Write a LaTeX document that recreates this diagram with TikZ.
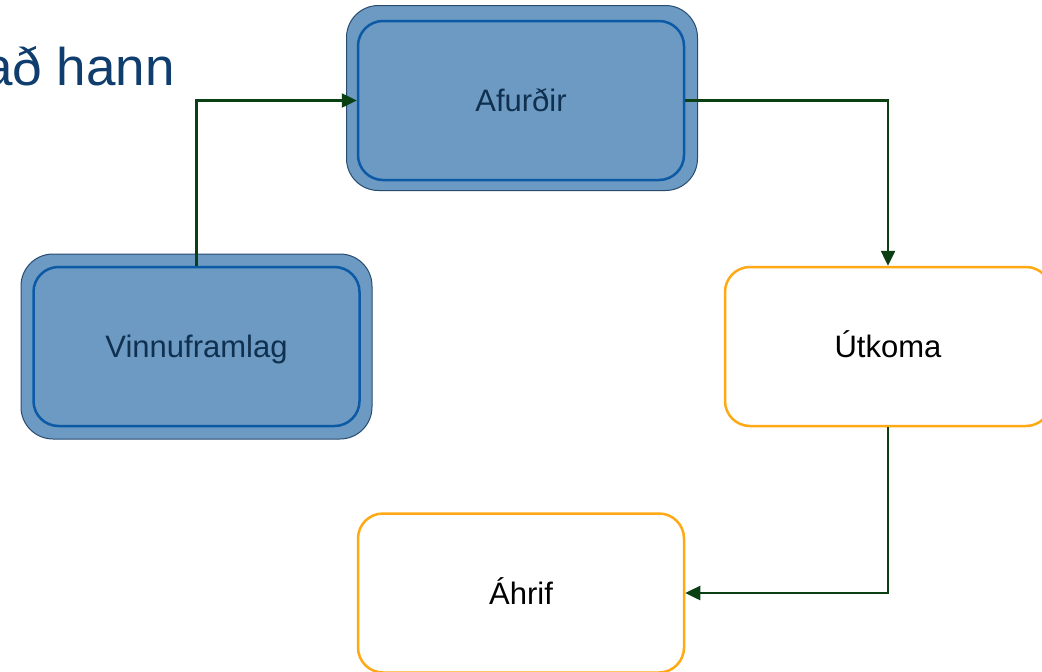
\documentclass[tikz,border=0pt]{standalone}
\usepackage{fontspec}
\setmainfont{Liberation Sans}
\usetikzlibrary{arrows.meta, positioning}
\definecolor{boxfill}{HTML}{6C9AC2}
\definecolor{outline}{HTML}{284B70}
\definecolor{inline}{HTML}{0C5AA6}
\definecolor{boxtext}{HTML}{10304F}
\definecolor{orline}{HTML}{FFA914}
\definecolor{arrgreen}{HTML}{0B3F14}
\definecolor{headblue}{HTML}{0F3E6E}
\tikzset{
    outbox/.style = {draw=outline, fill=boxfill, rounded corners=32pt, line width=1pt, minimum width=351pt, minimum height=185pt},
    inbox/.style = {draw=inline, fill=boxfill, text=boxtext, rounded corners=25pt, line width=2.5pt, minimum width=326pt, minimum height=159pt, text height=22pt, text depth=0pt},
    orbox/.style = {draw=orline, fill=white, text=black, rounded corners=25pt, line width=2.5pt, minimum width=326pt, minimum height=159pt, text height=22pt, text depth=0pt},
    arr/.style = {draw=arrgreen, line width=2.5pt, -{Triangle[length=15pt,width=14pt]}}
}
\begin{document}
\begin{tikzpicture}[x=1pt, y=-1pt, font=\fontsize{31}{37}\selectfont]
    \useasboundingbox (0,0) rectangle (1042,672);
    \node (head) [anchor=base east, inner sep=0, text=headblue, font=\fontsize{53}{60}\selectfont] at (175,85) {að hann};

    \node (workout) [outbox] at (196.5,346.5) {};
    \node (work) [inbox] at (workout) {Vinnuframlag};

    \node (prodout) [outbox] at (522,98) {};
    \node (prod) [inbox] at (521,100.5) {Afurðir};

    \node (outcome) [orbox] at (888,346.5) {Útkoma};
    \node (impact) [orbox] at (521,593) {Áhrif};

    \draw[arr] (work.north) |- (prod.west);
    \draw[arr] (prod.east) -| (outcome.north);
    \draw[arr] (outcome.south) |- (impact.east);
\end{tikzpicture}
\end{document}
